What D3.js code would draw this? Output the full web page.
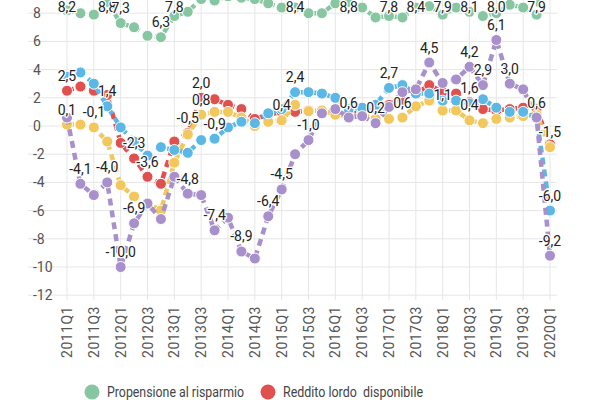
<!DOCTYPE html>
<html>
<head>
  <meta charset="utf-8">
  <script src="https://d3js.org/d3.v7.min.js"></script>
  <style>
    body { margin: 0; background: #fff; }
    text { font-family: Roboto, sans-serif; }
  </style>
</head>
<body>
<div id="chart"></div>
<script>
  // quarters 2011Q1 .. 2020Q1
  var quarters = [];
  for (var yr = 2011; yr <= 2020; yr++) {
    for (var q = 1; q <= 4; q++) {
      if (yr === 2020 && q > 1) break;
      quarters.push(yr + 'Q' + q);
    }
  }
  var yTicks = [-12, -10, -8, -6, -4, -2, 0, 2, 4, 6, 8];

  var propensione = [8.2, 8.0, 7.9, 8.8, 7.3, 7.0, 6.4, 6.3, 7.8, 8.1, 9.0, 8.9, 9.2, 9.1, 9.0, 8.7, 8.4, 8.4,
    8.0, 8.0, 8.7, 8.8, 8.4, 7.7, 7.8, 7.7, 8.4, 8.5, 7.9, 8.4, 8.1, 7.8, 8.0, 8.6, 8.4, 7.9, 14];
  var reddito = [2.5, 2.8, 2.5, 2.2, -1.2, -2.3, -3.6, -4.1, -1.1, -0.5, 2.0, 1.9, 1.5, 1.2, 0.5, 0.8, 1.0, 1.0,
    1.1, 1.0, 0.9, 0.8, 1.0, 1.2, 1.5, 1.8, 2.3, 2.9, 2.4, 2.3, 1.7, 1.2, 1.1, 1.2, 1.3, 1.2, -1.3];
  var serieBlu = [3.5, 3.8, 3.0, 1.4, -0.1, -1.1, -2.1, -1.5, -1.7, -1.9, -1.0, -0.9, -0.1, 0.3, 0.2, 0.9, 1.2, 2.4,
    2.4, 2.3, 2.0, 1.2, 1.3, 1.5, 2.7, 2.9, 2.3, 2.3, 1.8, 1.8, 1.6, 1.9, 1.3, 1.0, 1.0, 0.6, -6.0];
  var serieGialla = [0.1, 0.1, -0.1, -1.1, -4.2, -5.0, -5.5, -6.0, -2.6, -0.6, 0.8, 1.0, 1.0, 0.6, 0.0, 0.3, 0.4, 1.5,
    1.05, 1.1, 0.8, 0.7, 0.8, 0.5, 0.5, 0.6, 1.4, 1.8, 1.1, 1.1, 0.4, 0.2, 0.5, 0.6, 0.7, 0.8, -1.5];
  var serieViola = [0.6, -4.1, -4.9, -4.0, -10.0, -6.9, -5.5, -6.6, -3.6, -4.8, -4.9, -7.4, -6.5, -8.9, -9.4, -6.4, -4.5, -2.0,
    -1.0, 0.9, 1.2, 0.6, 0.7, 0.2, 1.35, 2.4, 2.6, 4.5, 3.05, 3.3, 4.2, 2.9, 6.1, 3.0, 2.6, 0.6, -9.2];

  // indices of points that carry a value label
  var labGreen = [0, 3, 4, 7, 8, 17, 21, 24, 26, 28, 30, 32, 35];
  var labRed = [0, 5, 6, 9, 10];
  var labBlue = [3, 11, 17, 24, 30, 35, 36];
  var labYellow = [0, 2, 10, 16, 25, 28, 30, 36];
  var labPurple = [1, 3, 4, 5, 9, 11, 13, 15, 16, 18, 21, 23, 27, 30, 31, 32, 33, 36];

  var series = [
    { name: 'Propensione al risparmio', values: propensione, color: '#86c6a0', labels: labGreen },
    { name: 'Reddito lordo  disponibile', values: reddito, color: '#e0504f', labels: labRed },
    { name: 'giallo', values: serieGialla, color: '#f2c75c', labels: labYellow },
    { name: 'blu', values: serieBlu, color: '#5ab7e6', labels: labBlue },
    { name: 'viola', values: serieViola, color: '#a890cc', labels: labPurple }
  ];

  var W = 600, H = 400;
  var svg = d3.select('#chart').append('svg').attr('width', W).attr('height', H);

  var x = d3.scalePoint().domain(quarters).range([67, 550]);
  var y = d3.scaleLinear().domain([-12, 10]).range([295.2, -15]);
  var fmt = function(v) { return v.toFixed(1).replace('.', ','); };

  // grid
  svg.append('g').selectAll('line').data(yTicks).enter().append('line')
    .attr('x1', 28).attr('x2', 557)
    .attr('y1', function(d) { return y(d); }).attr('y2', function(d) { return y(d); })
    .attr('stroke', '#e6e6e6').attr('stroke-width', 1);
  var xTickVals = quarters.filter(function(d, i) { return i % 2 === 0; });
  svg.append('g').selectAll('line').data(xTickVals).enter().append('line')
    .attr('x1', function(d) { return x(d); }).attr('x2', function(d) { return x(d); })
    .attr('y1', 0).attr('y2', 300)
    .attr('stroke', '#e6e6e6').attr('stroke-width', 1);

  svg.append('g').selectAll('text').data(yTicks).enter().append('text')
    .attr('x', 33).attr('y', function(d) { return y(d); }).attr('dy', '0.35em')
    .attr('fill', '#555').style('font-size', '14px')
    .text(function(d) { return d; });

  svg.append('g').selectAll('text').data(xTickVals).enter().append('text')
    .attr('transform', function(d) { return 'translate(' + (x(d) + 5) + ',306) rotate(-90)'; })
    .attr('text-anchor', 'end')
    .attr('fill', '#555').style('font-size', '14px').style('letter-spacing', '0.5px')
    .text(function(d) { return d; });

  var line = d3.line()
    .x(function(d, i) { return x(quarters[i]); })
    .y(function(d) { return y(d); });

  series.forEach(function(s) {
    var g = svg.append('g');
    g.append('path').datum(s.values)
      .attr('d', line).attr('fill', 'none')
      .attr('stroke', s.color).attr('stroke-width', 4.5)
      .attr('stroke-dasharray', '7,5');
    g.selectAll('circle').data(s.values).enter().append('circle')
      .attr('cx', function(d, i) { return x(quarters[i]); })
      .attr('cy', function(d) { return y(d); })
      .attr('r', 5.5).attr('fill', s.color)
      .attr('stroke', '#fff').attr('stroke-width', 1);
  });

  // value labels on top
  series.forEach(function(s) {
    svg.append('g').selectAll('text').data(s.labels).enter().append('text')
      .attr('x', function(i) { return x(quarters[i]); })
      .attr('y', function(i) { return Math.max(12, y(s.values[i]) - 10); })
      .attr('text-anchor', 'middle')
      .attr('fill', '#222').style('font-size', '14px')
      .attr('stroke', '#fff').attr('stroke-width', 2.5).attr('paint-order', 'stroke')
      .text(function(i) { return fmt(s.values[i]); });
  });

  // legend
  var legend = [series[0], series[1]];
  var lx = [92, 268];
  var lw = [137, 140];
  legend.forEach(function(s, k) {
    svg.append('circle').attr('cx', lx[k]).attr('cy', 392).attr('r', 7.5).attr('fill', s.color);
    svg.append('text').attr('x', lx[k] + 15).attr('y', 392).attr('dy', '0.35em')
      .attr('fill', '#444').style('font-size', '14px').style('white-space', 'pre')
      .attr('textLength', lw[k]).attr('lengthAdjust', 'spacingAndGlyphs')
      .text(s.name);
  });
</script>
</body>
</html>
